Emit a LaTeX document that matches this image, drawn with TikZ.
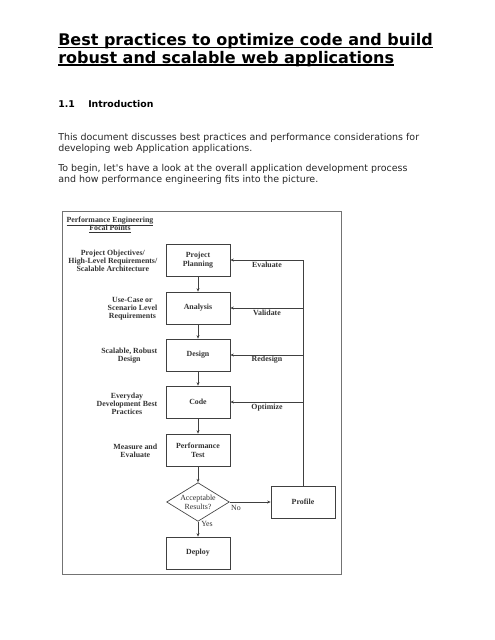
\documentclass[tikz,border=0pt]{standalone}
\usepackage{fontspec}
\setmainfont{Liberation Serif}
\newfontfamily\verdana{DejaVu Sans}
\usetikzlibrary{shapes.geometric,arrows.meta}

\tikzset{
  heading/.style={anchor=base west, inner sep=0pt, font=\verdana\bfseries\fontsize{12}{14}\selectfont},
  sect/.style={anchor=base west, inner sep=0pt, font=\verdana\bfseries\fontsize{7}{8}\selectfont},
  body/.style={anchor=base west, inner sep=0pt, font=\verdana\fontsize{7.1}{8}\selectfont, text=black!85},
  stepbox/.style={draw=black!75, line width=0.5pt, minimum width=48pt, minimum height=24pt,
    inner sep=1pt, align=center, font=\bfseries\fontsize{5.9}{6.6}\selectfont, text=black!80},
  decision/.style={diamond, draw=black!75, line width=0.5pt, minimum width=47pt, minimum height=29pt,
    aspect=1.6, inner sep=0pt, align=center, font=\fontsize{5.9}{6.6}\selectfont, text=black!80},
  focal/.style={align=center, inner sep=0pt, anchor=east, font=\bfseries\fontsize{5.9}{6.1}\selectfont, text=black!80},
  fptitle/.style={inner sep=0pt, anchor=base, font=\bfseries\fontsize{5.9}{6.4}\selectfont, text=black!80},
  loopnote/.style={inner sep=0pt, font=\bfseries\fontsize{5.9}{7}\selectfont, text=black!80},
  small/.style={inner sep=0pt, font=\fontsize{5.9}{7}\selectfont, text=black!80},
  flow/.style={draw=black!75, line width=0.5pt, -{Stealth[length=2.6pt,width=2.2pt]}},
}

\begin{document}
\begin{tikzpicture}[x=0.75pt,y=-0.75pt]
\useasboundingbox (0,0) rectangle (495,640);

% page heading and text
\node[heading] (t1) at (58,45.5) {Best practices to optimize code and build};
\node[heading] (t2) at (58,63) {robust and scalable web applications};
\draw[line width=1.2pt] ([yshift=-1.6pt]t1.base west) -- ([yshift=-1.6pt]t1.base east);
\draw[line width=1.2pt] ([yshift=-1.6pt]t2.base west) -- ([yshift=-1.6pt]t2.base east);
\node[sect] (num) at (58,107) {1.1};
\node[sect] (intro) at (88,107) {Introduction};
\node[body] (p1) at (58,140) {This document discusses best practices and performance considerations for};
\node[body] (p2) at (58,151) {developing web Application applications.};
\node[body] (p3) at (58,171) {To begin, let's have a look at the overall application development process};
\node[body] (p4) at (58,182) {and how performance engineering fits into the picture.};

% frame of the figure
\draw[black!55, line width=0.6pt] (62,211) rectangle (341,574);
\node[fptitle] (fp1) at (110,222) {\underline{Performance Engineering}};
\node[fptitle] (fp2) at (110,230.5) {\underline{Focal Points}};

% process steps
\node[stepbox] (plan) at (198,260) {Project\\Planning};
\node[stepbox] (ana) at (198,308) {Analysis};
\node[stepbox] (des) at (198,355) {Design};
\node[stepbox] (code) at (198,402) {Code};
\node[stepbox] (test) at (198,450) {Performance\\Test};
\node[decision] (ok) at (198,502) {Acceptable\\Results?};
\node[stepbox] (dep) at (198,553) {Deploy};
\node[stepbox] (prof) at (303,502) {Profile};

% focal points
\node[focal] (obj) at (157.5,261) {Project Objectives/\\High-Level Requirements/\\Scalable Architecture};
\node[focal] (req) at (157.5,309) {Use-Case or\\Scenario Level\\Requirements};
\node[focal] (rob) at (157.5,356) {Scalable, Robust\\Design};
\node[focal] (best) at (157.5,404) {Everyday\\Development Best\\Practices};
\node[focal] (meas) at (157.5,451) {Measure and\\Evaluate};

% arrows down
\draw[flow] (plan) -- (ana);
\draw[flow] (ana) -- (des);
\draw[flow] (des) -- (code);
\draw[flow] (code) -- (test);
\draw[flow] (test) -- (ok);
\draw[flow] (ok) -- (dep);
\draw[flow] (ok) -- (prof);

% feedback loop
\draw[flow] (prof.north) |- (plan.east);
\draw[flow] (prof.north |- ana.east) -- (ana.east);
\draw[flow] (prof.north |- des.east) -- (des.east);
\draw[flow] (prof.north |- code.east) -- (code.east);
\node[loopnote] (evl) at (267,265) {Evaluate};
\node[loopnote] (val) at (267,313) {Validate};
\node[loopnote] (red) at (267,360) {Redesign};
\node[loopnote] (opt) at (267,408) {Optimize};
\node[small] (no) at (236,508) {No};
\node[small] (yes) at (207,523.5) {Yes};
\end{tikzpicture}
\end{document}
